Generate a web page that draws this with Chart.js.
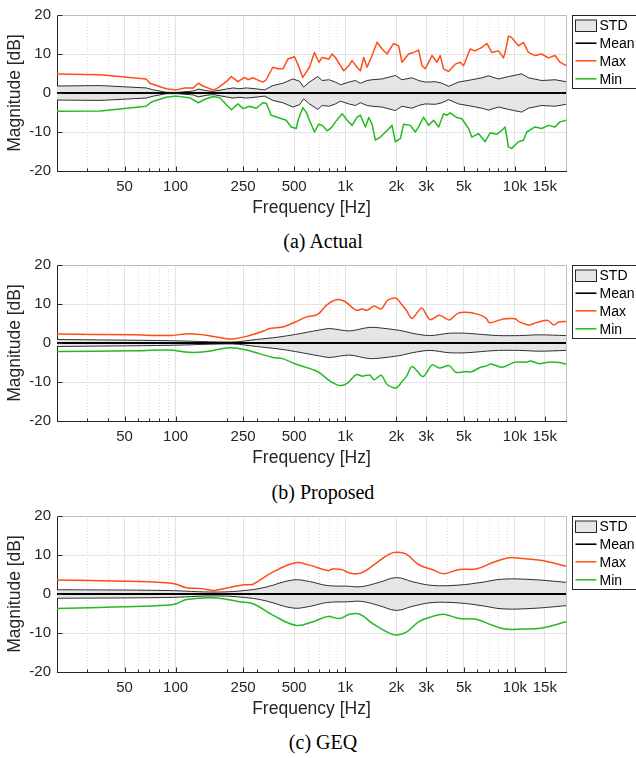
<!DOCTYPE html>
<html>
<head>
<meta charset="utf-8">
<script src="https://cdn.jsdelivr.net/npm/chart.js@4.4.1/dist/chart.umd.min.js"></script>
<style>
  html, body { margin: 0; padding: 0; background: #fff; }
  body { width: 636px; height: 758px; position: relative; overflow: hidden; }
  .panel { position: absolute; left: 0; width: 636px; height: 225px; }
  .caption { position: absolute; left: 0; width: 646px; text-align: center;
             font-family: "Liberation Serif", "Times New Roman", serif;
             font-size: 20px; line-height: 20px; color: #000; }
</style>
</head>
<body>
<div class="panel" style="top:0px"><canvas id="chartActual" width="636" height="225"></canvas></div>
<div class="caption" style="top:231px">(a) Actual</div>
<div class="panel" style="top:250px"><canvas id="chartProposed" width="636" height="225"></canvas></div>
<div class="caption" style="top:482px">(b) Proposed</div>
<div class="panel" style="top:501px"><canvas id="chartGeq" width="636" height="225"></canvas></div>
<div class="caption" style="top:732px">(c) GEQ</div>

<script>
// ---- axis ticks ----
const xTickValues = [50, 100, 250, 500, 1000, 2000, 3000, 5000, 10000, 15000];
const xTickLabels = ['50', '100', '250', '500', '1k', '2k', '3k', '5k', '10k', '15k'];
const xMinorValues = [30, 40, 60, 70, 80, 90, 200, 300, 400, 600, 700, 800, 900,
                      4000, 6000, 7000, 8000, 9000];
const yTickValues = [-20, -10, 0, 10, 20];
const legendLabels = ['STD', 'Mean', 'Max', 'Min'];

// ---- mean (normalised to 0 dB) ----
const meanHz = [20, 20000];
const meanDb = [0, 0];

// ---- (a) Actual ----
const actualMaxHz = [20, 36, 67, 70.5, 88, 101, 113, 127, 136, 145, 166, 175, 199, 213, 233,
  255, 267, 286, 299, 327, 342, 374, 401, 429, 459, 502, 525, 562, 588, 615, 659, 698, 731,
  800, 837, 875, 937, 980, 1049, 1097, 1174, 1228, 1285, 1345, 1439, 1540, 1648, 1763, 1927,
  2063, 2159, 2363, 2529, 2706, 2832, 2963, 3245, 3471, 3630, 3797, 4064, 4449, 4760, 4979,
  5449, 5831, 6383, 6832, 7311, 8000, 8560, 8750, 9160, 9580, 10490, 11220, 12010, 13140,
  14380, 15740, 17230, 18440, 20000];
const actualMaxDb = [4.9, 4.7, 3.6, 2.5, 1.1, 0.8, 1.3, 1.3, 2.5, 1.8, 0.8, 1.1, 2.9, 4.2, 2.9,
  4.0, 3.4, 3.9, 3.5, 2.8, 3.4, 6.6, 6.2, 6.2, 8.7, 9.3, 7.4, 4.0, 5.3, 6.6, 10.4, 7.9, 9.1,
  8.7, 10.0, 9.1, 7.0, 5.7, 7.0, 8.3, 6.6, 5.7, 9.1, 6.6, 9.6, 13.0, 11.3, 10.0, 12.7,
  12.1, 7.9, 10.0, 10.4, 11.0, 7.0, 6.2, 9.6, 7.9, 9.6, 6.2, 5.5, 7.4, 7.9, 7.0,
  11.3, 10.8, 11.7, 12.7, 10.4, 10.8, 9.0, 10.4, 14.6, 14.2, 12.1, 13.0, 10.4, 9.6,
  10.0, 9.0, 9.6, 7.9, 7.0];
const actualMinHz = [20, 36, 67, 72, 88, 101, 121, 136, 149, 166, 182, 213, 233, 250, 273,
  299, 327, 342, 366, 401, 449, 480, 514, 525, 562, 588, 615, 659, 698, 731, 782, 837, 875,
  959, 1026, 1097, 1174, 1228, 1315, 1375, 1439, 1505, 1611, 1763, 1887, 1973, 2112, 2208,
  2418, 2587, 2706, 2896, 3100, 3317, 3549, 3797, 3972, 4155, 4550, 4868, 5330, 5570, 6100,
  6675, 7145, 7820, 8370, 8750, 9160, 9580, 10490, 11220, 11750, 13140, 14380, 15740, 17230,
  18440, 20000];
const actualMinDb = [-4.7, -4.6, -3.4, -2.3, -1.1, -0.8, -1.2, -2.5, -1.6, -0.9, -1.2, -4.3, -2.8, -4.0, -3.4,
  -3.9, -2.5, -2.6, -5.7, -6.3, -7.0, -8.7, -9.1, -7.2, -3.8, -4.9, -7.0, -10.0, -8.0, -8.3, -9.7, -8.7, -7.4,
  -5.3, -7.0, -8.3, -6.2, -5.7, -8.7, -6.3, -8.0, -12.1, -11.3, -9.6, -8.3, -12.5, -11.7, -8.0,
  -8.3, -10.0, -8.7, -6.2, -8.3, -7.0, -8.7, -5.3, -5.7, -5.1, -6.3, -6.6, -9.1, -11.3, -10.4,
  -12.5, -10.2, -10.6, -9.6, -8.7, -13.8, -14.2, -12.5, -12.1, -10.0, -8.7, -9.1, -8.3, -8.7,
  -7.4, -7.0];
const actualStdHz = [20, 36, 67, 74, 88, 101, 127, 136, 152, 166, 199, 218, 239, 261, 286,
  335, 374, 429, 491, 538, 568, 615, 689, 731, 800, 875, 937, 1049, 1148, 1228, 1345, 1439,
  1648, 1973, 2159, 2473, 2706, 2963, 3393, 3712, 4064, 4652, 5570, 6383, 6980, 8000, 9160,
  10970, 12010, 14380, 17230, 20000];
const actualStdDb = [1.8, 1.9, 1.3, 0.8, 0.2, 0.15, 0.5, 1.0, 0.6, 0.4, 1.0, 1.3, 1.1, 1.3, 1.15,
  0.8, 1.9, 2.5, 3.6, 3.0, 1.5, 2.8, 4.2, 3.2, 3.4, 2.8, 2.1, 2.8, 3.2, 2.5, 3.2, 3.4,
  3.6, 4.5, 3.4, 3.9, 3.2, 2.8, 2.9, 2.5, 1.7, 2.8, 3.4, 3.9, 4.4, 3.6, 4.2,
  4.9, 3.9, 3.2, 3.4, 2.9];

// ---- (b) Proposed ----
const propMaxHz = [20, 56, 92, 121, 152, 199, 218, 261, 327, 358, 392, 427, 509, 593, 686,
  776, 884, 990, 1160, 1260, 1350, 1480, 1630, 1770, 1990, 2140, 2290, 2480, 2820, 3150,
  3590, 4100, 4600, 5160, 6000, 6760, 7060, 8010, 8750, 10000, 10650, 12080, 13300, 15560,
  16970, 18140, 20000];
const propMaxDb = [2.3, 2.1, 1.9, 2.4, 2.0, 1.1, 1.05, 1.7, 3.0, 3.7, 3.9, 4.1, 5.4, 6.7, 7.3,
  9.7, 11.1, 10.7, 8.4, 8.7, 8.4, 9.5, 8.7, 10.9, 11.5, 10.0, 8.4, 6.3, 9.0, 6.0,
  7.1, 5.9, 7.6, 7.9, 7.4, 6.4, 5.2, 5.8, 6.2, 6.2, 5.4, 4.6, 5.2, 5.8,
  4.6, 5.4, 5.5];
const propMinHz = [20, 56, 92, 121, 152, 208, 261, 374, 427, 509, 686, 810, 930, 1030, 1160,
  1260, 1390, 1480, 1630, 1770, 1990, 2170, 2290, 2480, 2870, 3250, 3590, 4100, 4480, 5160,
  5540, 6140, 6850, 7220, 8400, 10000, 11700, 12400, 13900, 15300, 16500, 18140, 20000];
const propMinDb = [-2.2, -2.0, -1.8, -2.4, -2.2, -1.2, -1.8, -3.7, -4.0, -5.4, -7.3, -9.7, -10.9, -10.3, -8.1,
  -8.5, -8.2, -9.4, -8.3, -10.7, -11.5, -9.8, -8.6, -6.0, -8.6, -5.6, -6.4, -5.8, -7.5, -7.3,
  -7.4, -6.4, -5.8, -5.4, -6.2, -4.9, -4.9, -4.6, -5.3, -5.0, -4.9, -5.0, -5.4];
const propStdHz = [20, 92, 218, 299, 400, 509, 700, 810, 1060, 1390, 1740, 2170, 2480, 3150,
  4100, 5160, 6760, 8010, 10650, 13900, 20000];
const propStdDb = [0.9, 0.6, 0.25, 0.9, 1.5, 2.2, 3.3, 3.7, 3.1, 4.0, 3.7, 3.1, 2.5, 1.9,
  2.5, 2.5, 2.1, 1.9, 1.9, 2.1, 1.9];

// ---- (c) GEQ ----
const geqMaxHz = [20, 49, 88, 101, 116, 139, 166, 175, 238, 270, 286, 374, 509, 615, 790,
  840, 950, 1060, 1240, 1530, 1830, 2030, 2290, 2720, 3250, 3810, 4700, 5900, 7350, 9200,
  11050, 14500, 20000];
const geqMaxDb = [3.6, 3.3, 2.9, 2.5, 1.6, 1.4, 0.9, 1.0, 2.2, 2.4, 2.5, 5.6, 8.0, 7.4, 6.0,
  6.4, 6.3, 5.4, 5.4, 8.0, 10.3, 10.7, 10.2, 7.5, 6.3, 5.2, 6.3, 6.4, 8.0, 9.3,
  9.1, 8.6, 7.1];
const geqMinHz = [20, 49, 88, 101, 116, 175, 238, 286, 374, 509, 645, 790, 930, 1060, 1220,
  1440, 1830, 2030, 2290, 2720, 3250, 3810, 4700, 5900, 7350, 8750, 11050, 14500, 20000];
const geqMinDb = [-3.7, -3.3, -2.9, -2.5, -1.4, -1.0, -2.0, -2.5, -5.4, -8.0, -7.1, -5.8, -6.3, -5.2, -5.2,
  -7.5, -10.1, -10.5, -9.8, -7.1, -5.8, -5.2, -6.3, -6.5, -8.0, -9.0, -9.0, -8.7, -7.1];
const geqStdHz = [20, 88, 175, 270, 343, 491, 615, 775, 1030, 1250, 1590, 2000, 2470, 3250,
  4700, 6390, 8400, 12600, 20000];
const geqStdDb = [1.1, 0.9, 0.5, 1.0, 1.8, 3.6, 3.2, 2.2, 2.0, 1.9, 3.0, 4.2, 3.2, 2.2,
  2.3, 3.0, 3.8, 3.7, 3.0];

// ---- styling ----
const COL_MAX = '#ff4d17';
const COL_MIN = '#22bb22';
const COL_STD_FILL = '#e5e5e5';
const COL_AXIS = '#262626';
const COL_GRID = '#e3e3e3';
const COL_MINOR = '#dadada';
const SANS = '"Liberation Sans", Arial, Helvetica, sans-serif';

Chart.defaults.font.family = SANS;
Chart.defaults.color = COL_AXIS;

const pts = (hz, db, sign = 1) => hz.map((f, i) => ({ x: f, y: sign * db[i] }));

// dotted minor grid under everything, frame + inward ticks on top of the data
const framePlugin = {
  id: 'frame',
  beforeDraw(chart) {
    const { ctx, chartArea: a, scales: { x } } = chart;
    ctx.save();
    ctx.strokeStyle = COL_MINOR;
    ctx.lineWidth = 1;
    ctx.setLineDash([1, 2]);
    xMinorValues.forEach(v => {
      const px = Math.round(x.getPixelForValue(v)) + 0.5;
      ctx.beginPath(); ctx.moveTo(px, a.top); ctx.lineTo(px, a.bottom); ctx.stroke();
    });
    ctx.restore();
  },
  afterDatasetsDraw(chart) {
    const { ctx, chartArea: a, scales: { x, y } } = chart;
    ctx.save();
    ctx.lineWidth = 1;
    ctx.strokeStyle = '#bdbdbd';
    ctx.beginPath();
    ctx.moveTo(a.left, Math.round(a.top) + 0.5); ctx.lineTo(Math.round(a.right) + 0.5, Math.round(a.top) + 0.5);
    ctx.lineTo(Math.round(a.right) + 0.5, a.bottom);
    ctx.stroke();
    ctx.strokeStyle = COL_AXIS;
    const by = Math.round(a.bottom) + 0.5;
    xTickValues.forEach(v => {
      const px = Math.round(x.getPixelForValue(v)) + 0.5;
      ctx.beginPath(); ctx.moveTo(px, by); ctx.lineTo(px, by - 5); ctx.stroke();
    });
    xMinorValues.forEach(v => {
      const px = Math.round(x.getPixelForValue(v)) + 0.5;
      ctx.beginPath(); ctx.moveTo(px, by); ctx.lineTo(px, by - 3); ctx.stroke();
    });
    const lx = Math.round(a.left) + 0.5;
    yTickValues.forEach(v => {
      const py = Math.round(y.getPixelForValue(v)) + 0.5;
      ctx.beginPath(); ctx.moveTo(lx, py); ctx.lineTo(lx + 5, py); ctx.stroke();
    });
    ctx.restore();
  },
  afterDraw(chart) {
    const { ctx, chartArea: a } = chart;
    const left = Math.round(a.right) + 6.5, top = Math.round(a.top) + 0.5;
    ctx.save();
    ctx.fillStyle = '#fff';
    ctx.fillRect(left, top, 80, 73);
    ctx.strokeStyle = COL_AXIS;
    ctx.lineWidth = 1;
    ctx.strokeRect(left, top, 80, 73);
    const rowY = [10, 27.7, 45.3, 63.3];
    const styles = [null, ['#000', 1.6], [COL_MAX, 1.5], [COL_MIN, 1.5]];
    ctx.font = '14px ' + SANS;
    ctx.textBaseline = 'middle';
    ctx.fillStyle = '#000';
    legendLabels.forEach((lab, i) => {
      const cy = top + rowY[i];
      if (i === 0) {
        ctx.fillStyle = COL_STD_FILL;
        ctx.fillRect(left + 3, cy - 5.5, 21, 11.5);
        ctx.strokeStyle = COL_AXIS;
        ctx.lineWidth = 1;
        ctx.strokeRect(left + 3, cy - 5.5, 21, 11.5);
      } else {
        ctx.strokeStyle = styles[i][0];
        ctx.lineWidth = styles[i][1];
        ctx.beginPath(); ctx.moveTo(left + 3, cy); ctx.lineTo(left + 24, cy); ctx.stroke();
      }
      ctx.fillStyle = '#000';
      ctx.fillText(lab, left + 27, cy + 1);
    });
    ctx.restore();
  }
};

function makeChart(id, s, tension) {
  const line = (data, color, width, extra) => Object.assign({
    data, borderColor: color, borderWidth: width, pointRadius: 0, fill: false,
    tension, borderJoinStyle: 'round'
  }, extra || {});
  return new Chart(document.getElementById(id), {
    type: 'line',
    data: {
      datasets: [
        line(pts(s.stdHz, s.stdDb), '#1a1a1a', 0.9, { label: 'STD', fill: '+1', backgroundColor: COL_STD_FILL }),
        line(pts(s.stdHz, s.stdDb, -1), '#1a1a1a', 0.9, { label: 'STD-' }),
        line(pts(meanHz, meanDb), '#000', 1.8, { label: 'Mean', tension: 0 }),
        line(pts(s.maxHz, s.maxDb), COL_MAX, 1.5, { label: 'Max' }),
        line(pts(s.minHz, s.minDb), COL_MIN, 1.5, { label: 'Min' })
      ]
    },
    options: {
      responsive: false,
      animation: false,
      devicePixelRatio: 1,
      layout: { padding: { left: 0, right: 70, top: 14, bottom: 0 } },
      plugins: {
        legend: { display: false },
        tooltip: { enabled: false },
        filler: { drawTime: 'beforeDatasetsDraw' }
      },
      scales: {
        x: {
          type: 'logarithmic',
          min: 20, max: 20000,
          afterBuildTicks: sc => { sc.ticks = xTickValues.map(v => ({ value: v })); },
          afterFit: sc => { sc.height = 54; },
          ticks: {
            autoSkip: false, maxRotation: 0, minRotation: 0, padding: 7,
            font: { size: 15 }, color: COL_AXIS,
            callback: v => { const i = xTickValues.indexOf(v); return i >= 0 ? xTickLabels[i] : ''; }
          },
          grid: { color: COL_GRID, lineWidth: 1, drawTicks: false },
          border: { color: COL_AXIS, width: 1 },
          title: { display: true, text: 'Frequency [Hz]', font: { size: 17.5 }, color: COL_AXIS,
                   padding: { top: 0, bottom: 6 } }
        },
        y: {
          min: -20, max: 20,
          afterBuildTicks: sc => { sc.ticks = yTickValues.map(v => ({ value: v })); },
          afterFit: sc => { sc.width = 57; },
          ticks: { padding: 6, font: { size: 15 }, color: COL_AXIS },
          grid: { color: COL_GRID, lineWidth: 1, drawTicks: false },
          border: { color: COL_AXIS, width: 1 },
          title: { display: true, text: 'Magnitude [dB]', font: { size: 17.5 }, color: COL_AXIS,
                   padding: { top: 5, bottom: 0 } }
        }
      }
    },
    plugins: [framePlugin]
  });
}

makeChart('chartActual', {
  maxHz: actualMaxHz, maxDb: actualMaxDb, minHz: actualMinHz, minDb: actualMinDb,
  stdHz: actualStdHz, stdDb: actualStdDb
}, 0);
makeChart('chartProposed', {
  maxHz: propMaxHz, maxDb: propMaxDb, minHz: propMinHz, minDb: propMinDb,
  stdHz: propStdHz, stdDb: propStdDb
}, 0.3);
makeChart('chartGeq', {
  maxHz: geqMaxHz, maxDb: geqMaxDb, minHz: geqMinHz, minDb: geqMinDb,
  stdHz: geqStdHz, stdDb: geqStdDb
}, 0.4);
</script>
</body>
</html>
